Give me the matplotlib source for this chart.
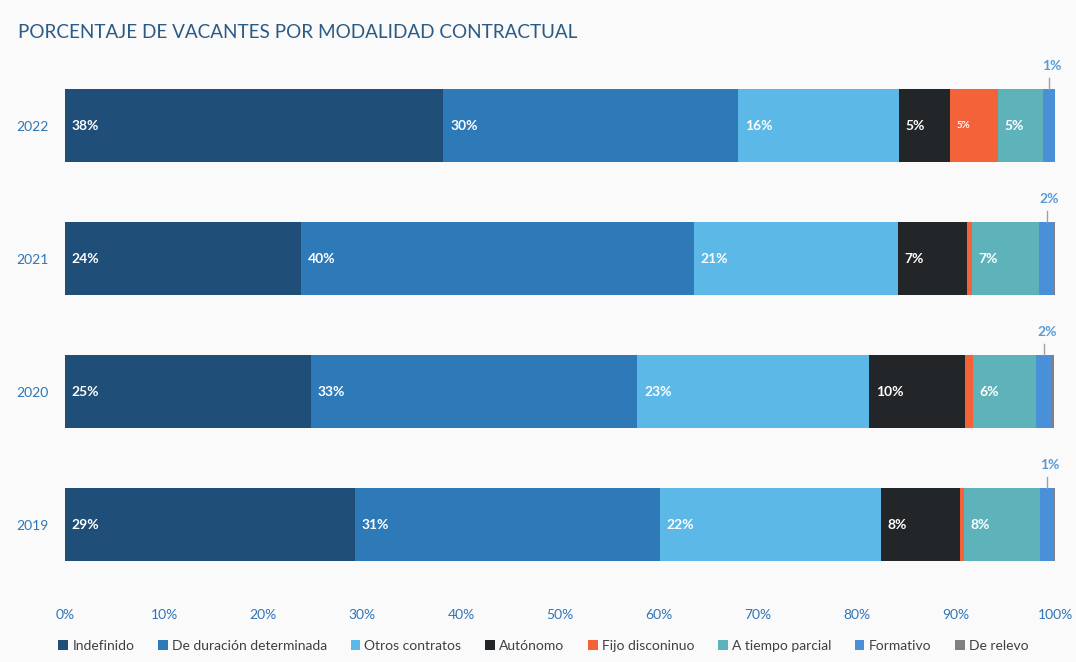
import numpy as np
import matplotlib
matplotlib.use("Agg")
import matplotlib.pyplot as plt

plt.rcParams['font.family'] = ['Lato', 'DejaVu Sans']

# Datos (% de vacantes)
years = ["2019", "2020", "2021", "2022"]
categories = ["Indefinido", "De duración determinada", "Otros contratos", "Autónomo",
              "Fijo disconinuo", "A tiempo parcial", "Formativo", "De relevo"]
indefinido = [29.3, 24.8, 23.8, 38.2]
duracion_det = [30.8, 33.0, 39.7, 29.8]
otros = [22.3, 23.4, 20.6, 16.2]
autonomo = [8.0, 9.7, 7.0, 5.2]
fijo_disc = [0.4, 0.8, 0.5, 4.8]
parcial = [7.7, 6.4, 6.8, 4.6]
formativo = [1.4, 1.6, 1.5, 1.2]
relevo = [0.1, 0.2, 0.1, 0.0]

colors = ["#1f4e79", "#2e7ab8", "#5cb8e6", "#222628",
          "#f4623a", "#5eb3bb", "#4a90d9", "#808080"]

series = [indefinido, duracion_det, otros, autonomo, fijo_disc, parcial, formativo, relevo]

bg = "#fafafa"
fig = plt.figure(figsize=(10.76, 6.62), dpi=100, facecolor=bg)
ax = fig.add_axes([0.0604, 0.0967, 0.9201, 0.834], facecolor=bg)

y = np.arange(len(years))
left = np.zeros(len(years))
for i, (vals, name, col) in enumerate(zip(series, categories, colors)):
    vals = np.array(vals)
    ax.barh(y, vals, left=left, height=0.55, color=col, label=name)
    for j in range(len(years)):
        v = vals[j]
        if i == 6:
            # Formativo: etiqueta encima con línea guía
            xc = left[j] + v / 2
            ax.plot([xc, xc], [y[j] + 0.275, y[j] + 0.36], color="#a0a0a0", lw=1)
            ax.text(xc + 0.3, y[j] + 0.45, f"{round(v):.0f}%", color="#5b9bd5",
                    fontsize=10, ha="center", va="center", fontweight="bold")
        elif v >= 3:
            fs = 7 if i == 4 else 10
            ax.text(left[j] + 0.7, y[j], f"{round(v):.0f}%", color="white",
                    fontsize=fs, ha="left", va="center", fontweight="bold")
    left += vals

ax.set_xlim(0, 100)
ax.set_ylim(-0.55, 3.6)
ax.set_xticks(np.arange(0, 101, 10))
ax.set_xticklabels([f"{t}%" for t in range(0, 101, 10)])
ax.set_yticks(y)
ax.set_yticklabels(years)
ax.tick_params(axis="both", length=0, colors="#2e75b6", labelsize=10)
ax.tick_params(axis="x", pad=8)
ax.tick_params(axis="y", pad=12)
for s in ax.spines.values():
    s.set_visible(False)

fig.text(0.017, 0.951, "PORCENTAJE DE VACANTES POR MODALIDAD CONTRACTUAL",
         fontsize=13.6, color="#2b5b85", ha="left", va="center")

leg = fig.legend(loc="center", bbox_to_anchor=(0.505, 0.024), ncol=8, frameon=False,
                 fontsize=10, handlelength=0.7, handleheight=0.7, handletextpad=0.3,
                 columnspacing=1.7)
for t in leg.get_texts():
    t.set_color("#404040")

fig.savefig("out.png", dpi=100, facecolor=bg)
